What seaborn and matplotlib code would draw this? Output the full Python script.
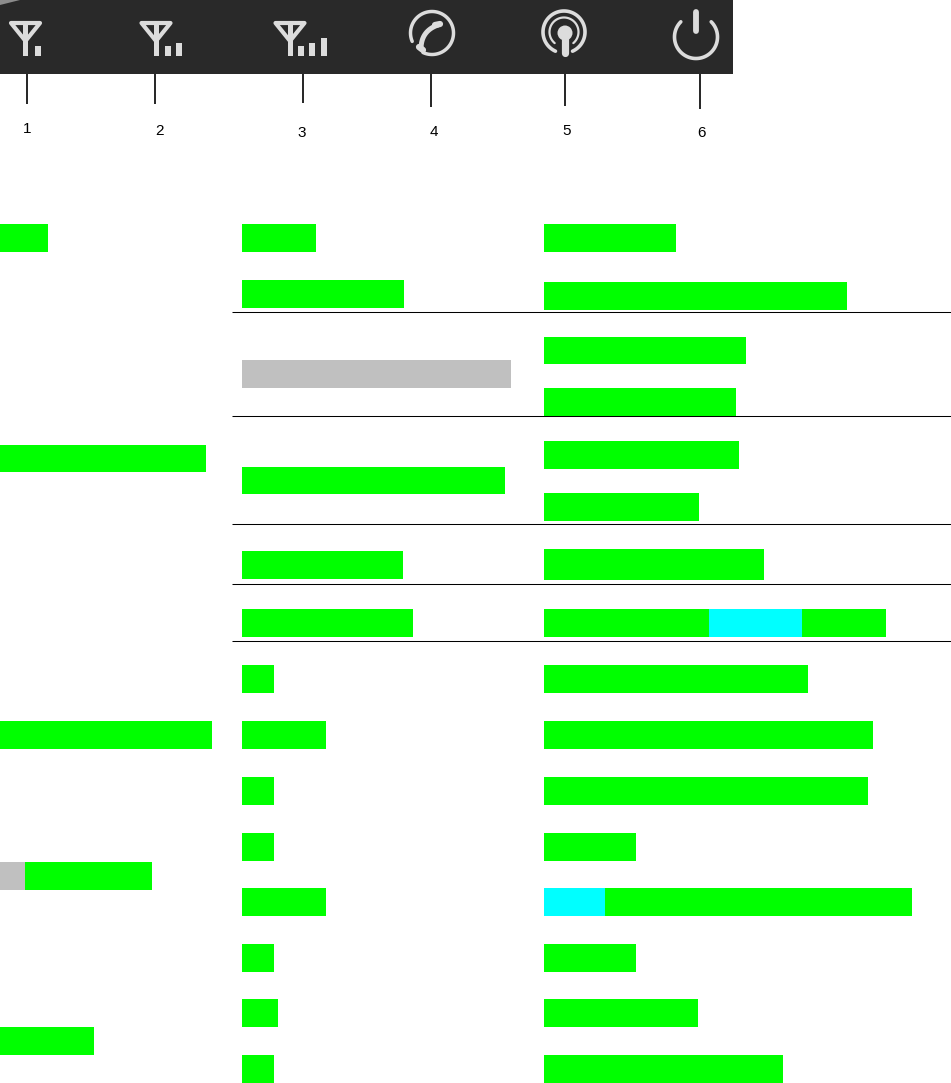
#!/usr/bin/env python3

"""Phone status icons with the green/cyan/grey bar columns underneath."""

import numpy as np
import matplotlib
matplotlib.use("Agg")
import matplotlib.pyplot as plt
from matplotlib.patches import Polygon, Rectangle
import seaborn as sns

W, H = 951, 1083

# bar lengths, one list per column and colour
col1_green = [48, 206, 212, 152, 94]
col1_grey = [25]
col2_green = [74, 162, 263, 161, 171, 32, 84, 32, 32, 84, 32, 36, 32]
col2_grey = [269]
col3_green = [132, 303, 202, 192, 195, 155, 220, 342, 264, 329, 324, 92, 368, 92, 154, 239]
col3_cyan = [258, 61]
col3_green_top = [165]   # first segment of the split bar, sits over the cyan
icon_labels = ["1", "2", "3", "4", "5", "6"]

# layout, in pixels of the figure: (top, height) of each bar
col1_rows = [(224, 28), (445, 27), (721, 28), (862, 28), (1027, 28)]
col1_grey_rows = [(862, 28)]
col2_rows = [(224, 28), (280, 28), (467, 27), (551, 28), (609, 28), (665, 28), (721, 28),
             (777, 28), (833, 28), (888, 28), (944, 28), (999, 28), (1055, 28)]
col2_grey_rows = [(360, 28)]
col3_rows = [(224, 28), (282, 28), (337, 27), (388, 28), (441, 28), (493, 28), (549, 31),
             (609, 28), (665, 28), (721, 28), (777, 28), (833, 28), (888, 28), (944, 28),
             (999, 28), (1055, 28)]
col3_cyan_rows = [(609, 28), (888, 28)]
col3_top_rows = [(609, 28)]
col_left = [0, 242, 544]
separators = [312, 416, 524, 584, 641]
tick_x = [27, 155, 303, 431, 565, 700]
tick_end = [104, 104, 103, 107, 106, 109]
label_x = [27, 159, 302, 434, 567, 702]
label_y = [129, 131, 133, 132, 131, 133]

GREEN = "#00ff00"
CYAN = "#00ffff"
GREY = "#c0c0c0"
ICON = "#dcdcdc"

sns.set_theme(style="white")
plt.rcParams["font.family"] = ["Liberation Sans", "DejaVu Sans"]


def draw_bars(ax, rows, lengths, color):
    for (top, height), length in zip(rows, lengths):
        sns.barplot(x=[length], y=[top + height / 2], orient="y", native_scale=True,
                    width=height, color=color, saturation=1, linewidth=0, ax=ax)


def antenna(ax, cx, bars):
    ax.add_patch(Polygon([(cx - 14.5, 23), (cx + 14.5, 23), (cx, 41)], closed=True, fill=False,
                         edgecolor=ICON, linewidth=3, joinstyle="round"))
    ax.add_patch(Rectangle((cx - 2.5, 25), 5, 31, color=ICON, linewidth=0))
    for x0, y0 in bars:
        ax.add_patch(Rectangle((x0, y0), 5.5, 56 - y0, color=ICON, linewidth=0))


def arc(ax, cx, cy, r, start, end, lw):
    t = np.radians(np.linspace(start, end, 120))
    ax.plot(cx + r * np.cos(t), cy + r * np.sin(t), color=ICON, linewidth=lw,
            solid_capstyle="round")


fig = plt.figure(figsize=(W / 100, H / 100), dpi=100)
fig.patch.set_facecolor("white")

# one axes per bar column, each in pixels from its left edge
columns = [
    [(col1_rows, col1_green, GREEN), (col1_grey_rows, col1_grey, GREY)],
    [(col2_rows, col2_green, GREEN), (col2_grey_rows, col2_grey, GREY)],
    [(col3_rows, col3_green, GREEN), (col3_cyan_rows, col3_cyan, CYAN), (col3_top_rows, col3_green_top, GREEN)],
]
for left, layers in zip(col_left, columns):
    ax = fig.add_axes([left / W, 0, (W - left) / W, 1])
    for rows, lengths, color in layers:
        draw_bars(ax, rows, lengths, color)
    ax.set_xlim(0, W - left)
    ax.set_ylim(H, 0)
    ax.axis("off")

# overlay in figure pixels for the header and the separators
top = fig.add_axes([0, 0, 1, 1], facecolor="none")
top.set_xlim(0, W)
top.set_ylim(H, 0)
top.axis("off")

top.hlines(separators, 232, W, color="black", linewidth=0.75)

top.add_patch(Rectangle((0, 0), 733, 74, color="#292929", linewidth=0))
top.add_patch(Polygon([(0, 0), (20, 0), (0, 5)], closed=True, color="#8c8c8c", linewidth=0))

antenna(top, 25.5, [(35, 46)])
antenna(top, 156, [(165, 46), (176, 43)])
antenna(top, 290, [(298, 46), (309, 43), (321, 38)])

# handset in a circle
arc(top, 432, 33, 21.5, 157, 475, 2.5)
t = np.linspace(0, 1, 60)
hx = (1 - t) ** 2 * 438 + 2 * t * (1 - t) * 421 + t ** 2 * 421
hy = (1 - t) ** 2 * 25 + 2 * t * (1 - t) * 31 + t ** 2 * 49
top.plot(hx, hy, color=ICON, linewidth=3.6, solid_capstyle="round")
top.plot([435, 440], [25, 24], color=ICON, linewidth=4.5, solid_capstyle="round")
top.plot([419, 423], [47, 50], color=ICON, linewidth=4.5, solid_capstyle="round")

# hotspot
arc(top, 564, 32, 21, 114, 426, 2.6)
arc(top, 564, 32, 14.5, 130, 410, 1.6)
top.add_patch(plt.Circle((565, 33), 7.5, color=ICON, linewidth=0))
top.plot([565, 565], [36, 53], color=ICON, linewidth=5.2, solid_capstyle="round")

# power
arc(top, 696, 37, 21.5, -45, 225, 2.6)
top.plot([696, 696], [12, 31], color=ICON, linewidth=4.2, solid_capstyle="round")

for x, end in zip(tick_x, tick_end):
    top.plot([x, x], [74, end], color="black", linewidth=1.2, solid_capstyle="butt")
for x, y, s in zip(label_x, label_y, icon_labels):
    top.text(x, y, s, ha="center", va="center", fontsize=11, color="black")

fig.savefig("out.png", dpi=100)
plt.close(fig)
